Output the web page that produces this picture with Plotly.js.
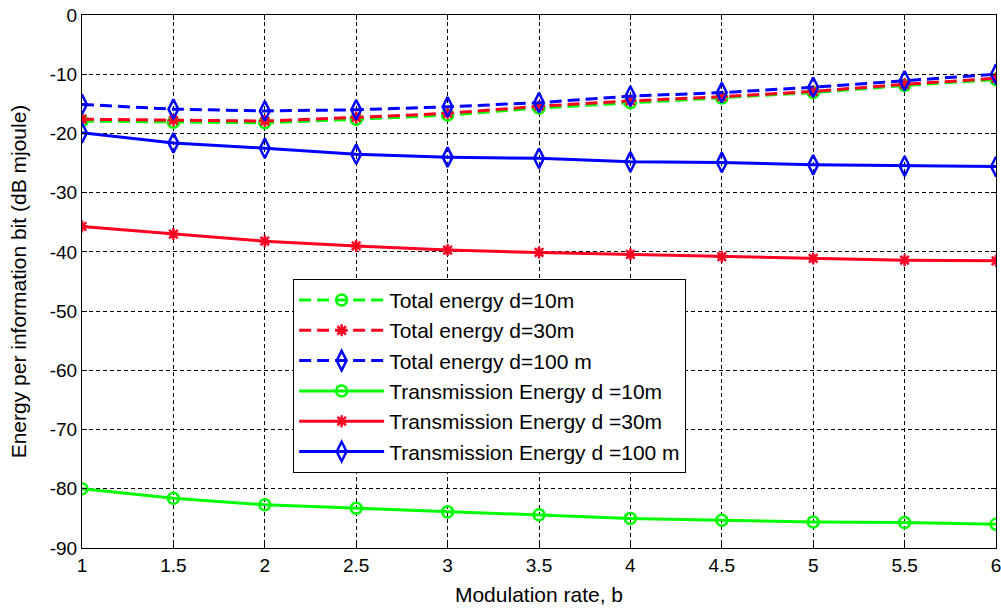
<!DOCTYPE html>
<html><head><meta charset="utf-8">
<script src="https://cdn.plot.ly/plotly-3.0.1.min.js"></script>
<style>html,body{margin:0;padding:0;background:#fff}#chart{width:1001px;height:610px}</style>
</head><body><div id="chart"></div>
<script>
const modulationRate = [1, 1.5, 2, 2.5, 3, 3.5, 4, 4.5, 5, 5.5, 6];
const totalEnergy10m = [-17.9, -18.1, -18.2, -17.6, -16.9, -15.7, -14.8, -14.0, -13.1, -11.9, -10.9];
const totalEnergy30m = [-17.6, -17.8, -17.9, -17.3, -16.6, -15.4, -14.5, -13.8, -12.9, -11.7, -10.7];
const totalEnergy100m = [-15.1, -15.9, -16.2, -16.0, -15.5, -14.8, -13.7, -13.1, -12.2, -11.1, -10.0];
const transEnergy10m = [-80.0, -81.6, -82.7, -83.3, -83.9, -84.4, -85.0, -85.3, -85.6, -85.7, -86.0];
const transEnergy30m = [-35.7, -37.0, -38.2, -39.0, -39.7, -40.1, -40.4, -40.8, -41.1, -41.4, -41.5];
const transEnergy100m = [-19.9, -21.6, -22.5, -23.5, -24.0, -24.2, -24.8, -24.9, -25.3, -25.5, -25.6];
const seriesNames = ['Total energy d=10m', 'Total energy d=30m', 'Total energy d=100 m',
  'Transmission Energy d =10m', 'Transmission Energy d =30m', 'Transmission Energy d =100 m'];
const xTicks = [1, 1.5, 2, 2.5, 3, 3.5, 4, 4.5, 5, 5.5, 6];
const yTicks = [0, -10, -20, -30, -40, -50, -60, -70, -80, -90];

const GREEN = '#00ff00', RED = '#ff0022', BLUE = '#0000ff';
function tr(y, name, color, dash, symbol, size, idx) {
  return {
    x: modulationRate, y: y, name: name, type: 'scatter', mode: 'lines+markers',
    legendgroup: 'g' + idx,
    line: {color: color, width: 3, dash: dash},
    marker: {symbol: symbol, size: size, color: color, line: {color: color, width: 2.5}}
  };
}
const DASH = '12px,6px';
const data = [
  tr(totalEnergy10m, seriesNames[0], GREEN, DASH, 'circle-open', 11, 0),
  tr(totalEnergy30m, seriesNames[1], RED, DASH, 'asterisk-open', 10, 1),
  tr(totalEnergy100m, seriesNames[2], BLUE, DASH, 'diamond-tall-open', 14, 2),
  tr(transEnergy10m, seriesNames[3], GREEN, 'solid', 'circle-open', 11, 3),
  tr(transEnergy30m, seriesNames[4], RED, 'solid', 'asterisk-open', 10, 4),
  tr(transEnergy100m, seriesNames[5], BLUE, 'solid', 'diamond-tall-open', 14, 5)
];
const FAM = 'Liberation Sans, Arial, sans-serif';
const tickFont = {family: FAM, size: 19, color: '#000'};
const layout = {
  width: 1001, height: 610,
  margin: {l: 82, r: 5, t: 15, b: 62},
  paper_bgcolor: '#fff', plot_bgcolor: '#fff',
  showlegend: true,
  legend: {
    x: 0.231, y: 0.505, xanchor: 'left', yanchor: 'top',
    bgcolor: '#fff', bordercolor: '#000', borderwidth: 1,
    font: {family: FAM, size: 21, color: '#000'},
    tracegroupgap: 0, itemwidth: 85
  },
  xaxis: {
    range: [1, 6], tickvals: xTicks, ticktext: xTicks.map(String),
    showline: true, linecolor: '#000', linewidth: 1, mirror: 'ticks',
    ticks: 'inside', ticklen: 5, tickcolor: '#000', ticklabeloverflow: 'allow',
    showgrid: true, gridcolor: '#000', griddash: '4px,3px', gridwidth: 1,
    zeroline: false, tickfont: tickFont,
    title: {text: 'Modulation rate, b', font: {family: FAM, size: 21, color: '#000'}, standoff: 12}
  },
  yaxis: {
    range: [-90, 0], tickvals: yTicks, ticktext: yTicks.map(String),
    showline: true, linecolor: '#000', linewidth: 1, mirror: 'ticks',
    ticks: 'inside', ticklen: 5, tickcolor: '#000', ticklabeloverflow: 'allow',
    showgrid: true, gridcolor: '#000', griddash: '4px,3px', gridwidth: 1,
    zeroline: false, tickfont: tickFont,
    title: {text: 'Energy per information bit (dB mjoule)', font: {family: FAM, size: 21, color: '#000'}, standoff: 17}
  }
};
Plotly.newPlot('chart', data, layout, {displayModeBar: false, staticPlot: true});
</script></body></html>
